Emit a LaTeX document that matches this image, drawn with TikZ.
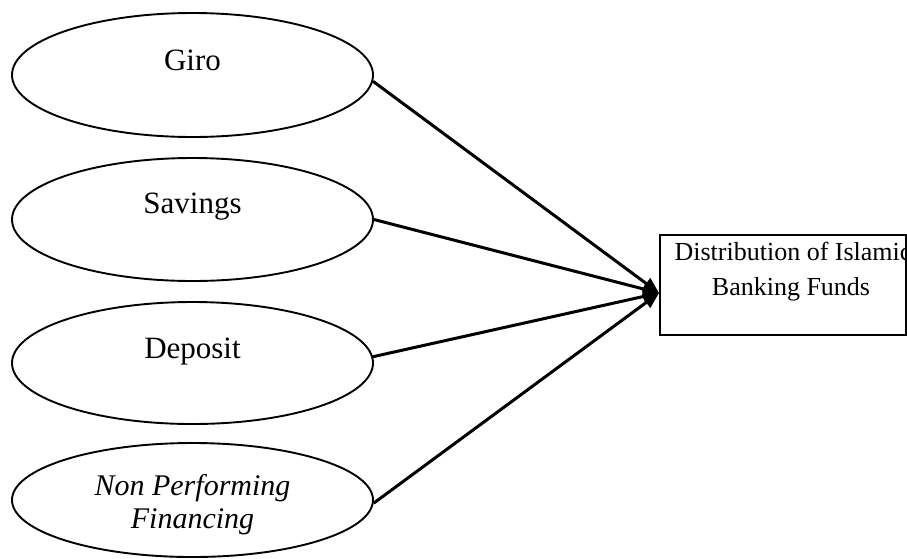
\documentclass[tikz,border=0pt]{standalone}
\usepackage{fontspec}
\setmainfont{Liberation Serif}
\usetikzlibrary{shapes.geometric,arrows.meta}
\begin{document}
\begin{tikzpicture}[x=1pt,y=-1pt,
  oval/.style={draw,ellipse,line width=1.9pt,minimum width=361pt,inner sep=0pt},
  lbl/.style={anchor=base,inner sep=0pt,font=\fontsize{31}{37}\selectfont},
  boxlbl/.style={anchor=base,inner sep=0pt,font=\fontsize{26}{31}\selectfont},
  conn/.style={line width=3pt,-{Triangle[length=16pt,width=13pt]}}]
\useasboundingbox (0,0) rectangle (907,558);
% ellipses
\node[oval,minimum height=124pt] (giro) at (192.5,75) {};
\node[oval,minimum height=123pt] (sav) at (192.5,219.5) {};
\node[oval,minimum height=122pt] (dep) at (192.5,363) {};
\node[oval,minimum height=114pt] (npf) at (192.5,500) {};
% labels
\node[lbl] (tgiro) at (192.5,70) {Giro};
\node[lbl] (tsav) at (192.5,213) {Savings};
\node[lbl] (tdep) at (192.5,358) {Deposit};
\node[lbl,font=\fontsize{30}{36}\selectfont\itshape] (tnpf1) at (192.5,495) {Non Performing};
\node[lbl,font=\fontsize{30}{36}\selectfont\itshape] (tnpf2) at (192.5,528) {Financing};
% target box
\node[draw,line width=1.9pt,minimum width=246pt,minimum height=100pt,inner sep=0pt] (box) at (783,285) {};
\node[boxlbl] (tbox1) at (793,260) {Distribution of Islamic};
\node[boxlbl] (tbox2) at (791,295) {Banking Funds};
\coordinate (tip) at ([yshift=-8pt]box.west);
% connectors
\draw[conn] (giro.-2.5) -- (tip);
\draw[conn] (sav.0) -- (tip);
\draw[conn] (dep.2.5) -- (tip);
\draw[conn] (npf.-1) -- (tip);
\end{tikzpicture}
\end{document}
